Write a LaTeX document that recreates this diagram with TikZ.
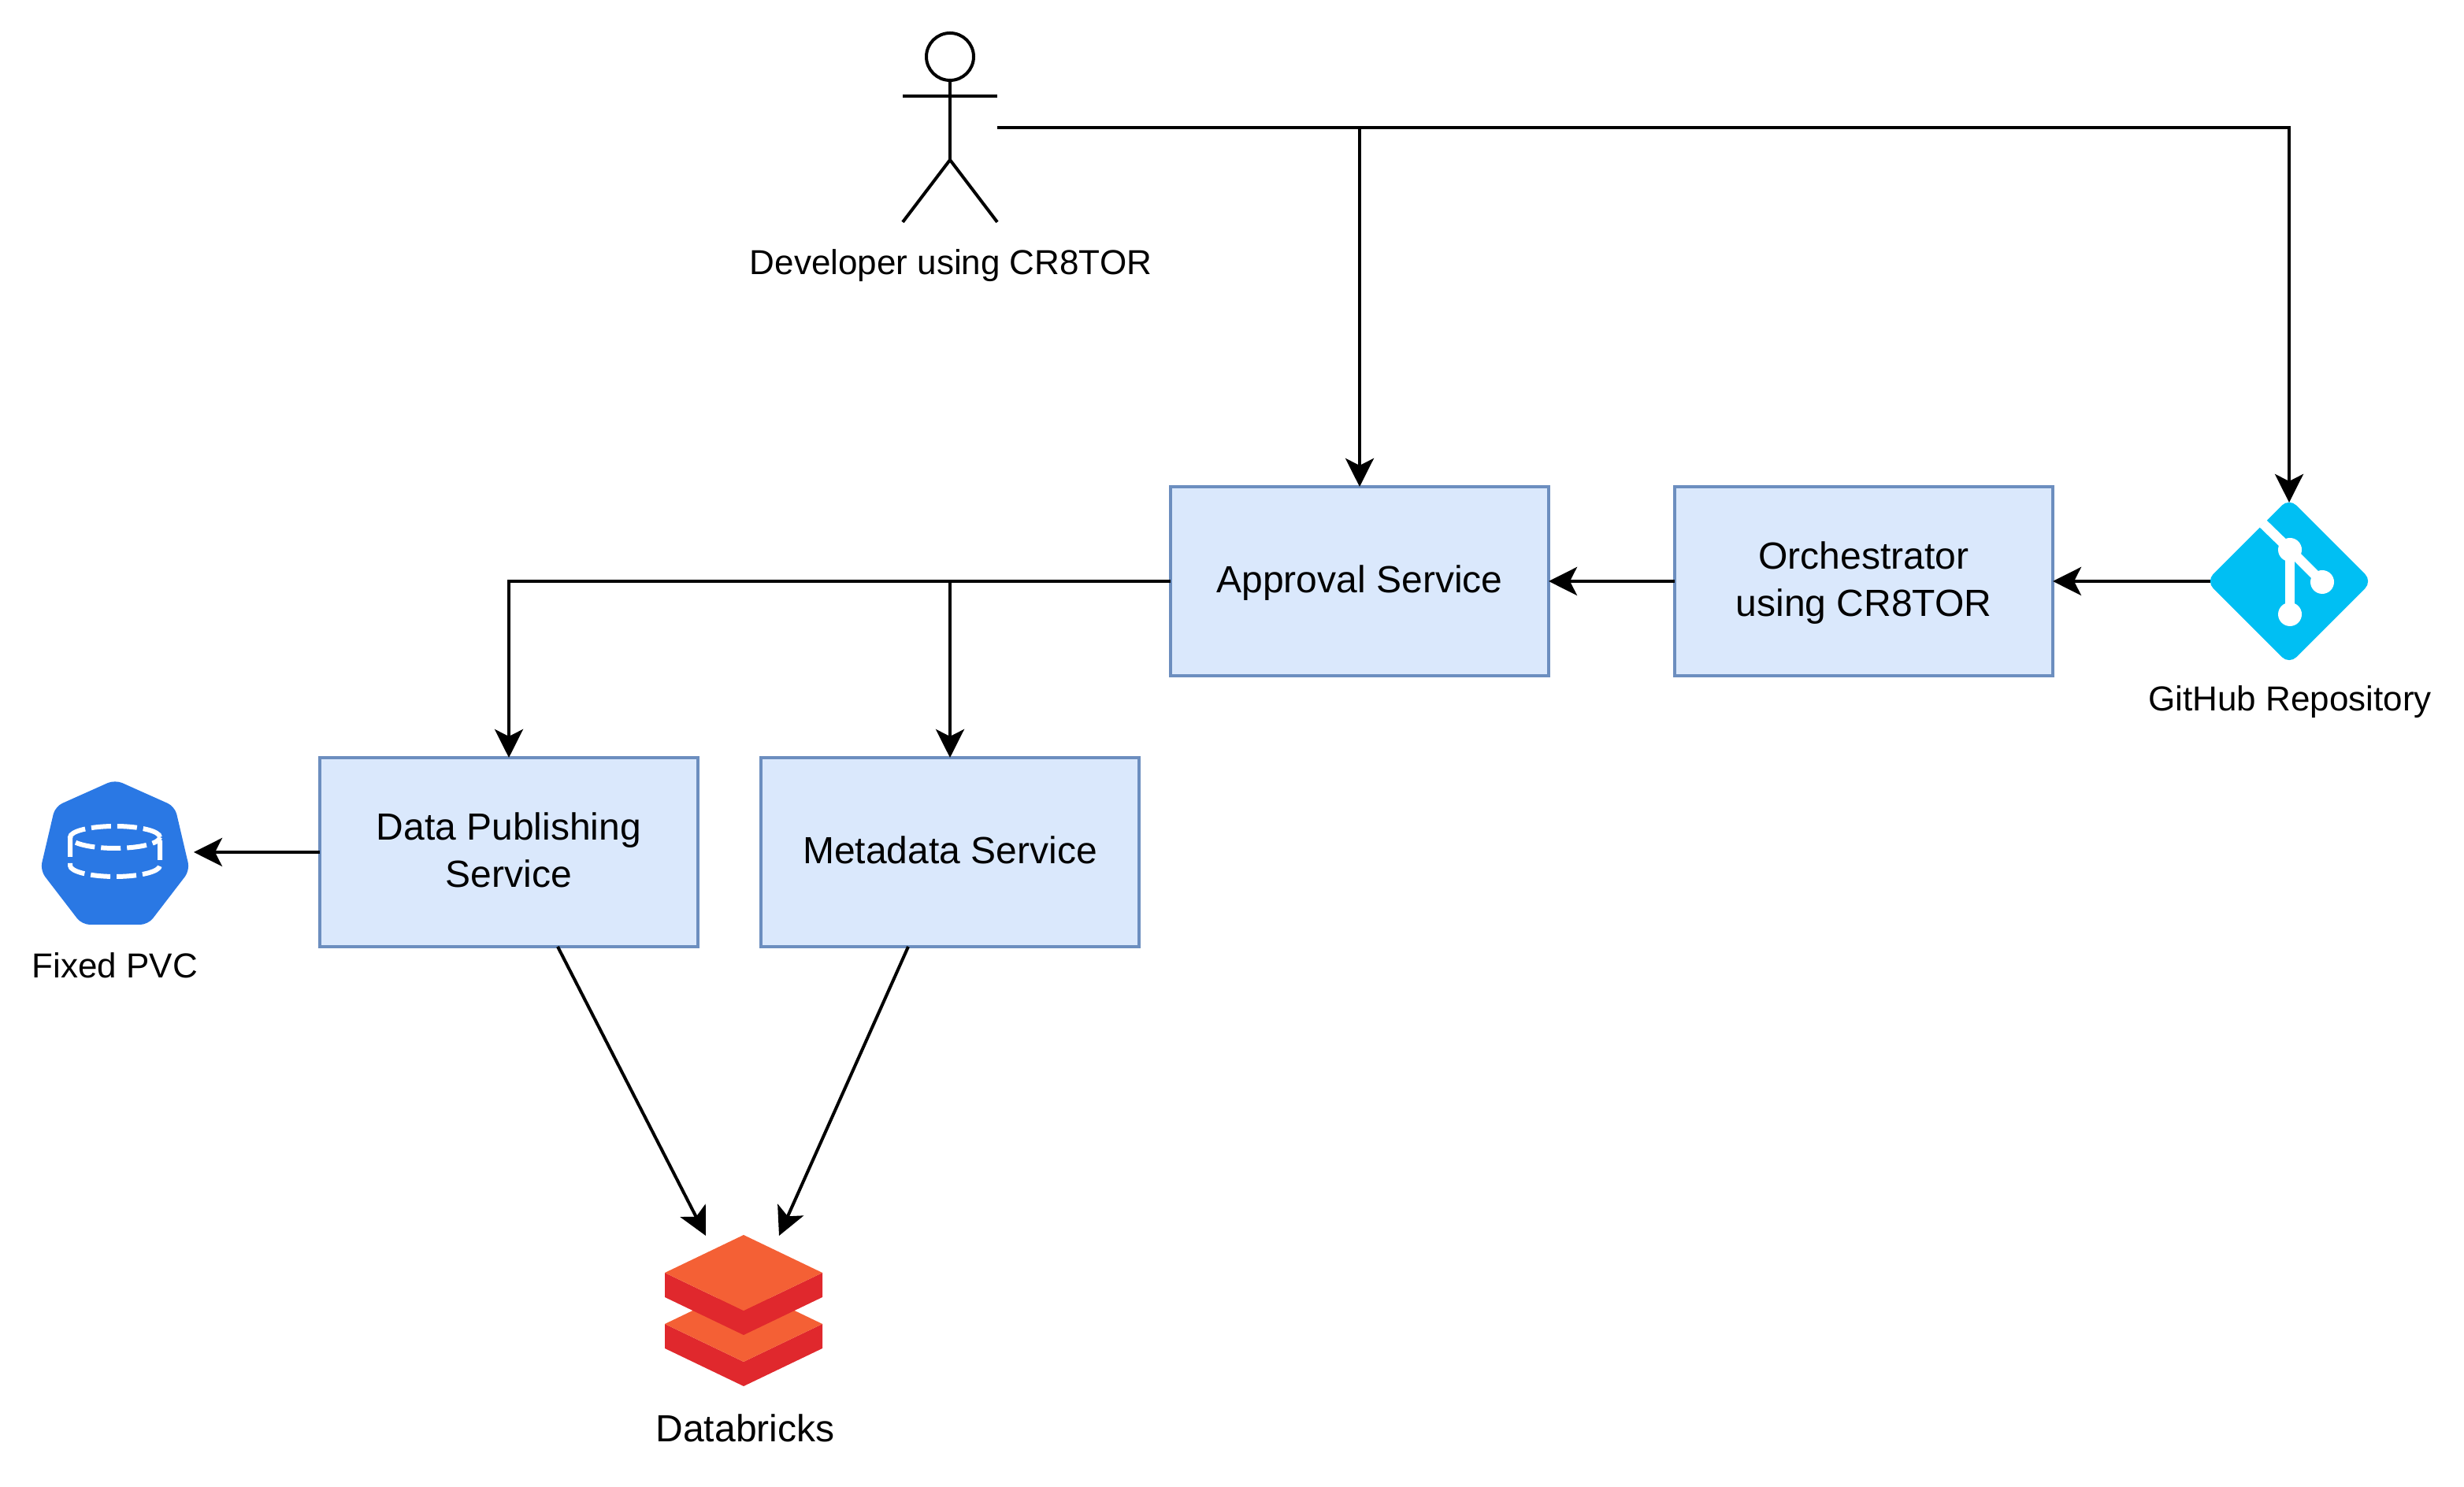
\documentclass[tikz,border=0pt]{standalone}
\usepackage{fontspec}
\setmainfont{Liberation Sans}
\usetikzlibrary{positioning,arrows.meta}

\tikzset{
  service/.style={draw=boxborder, fill=boxfill, line width=0.04cm, minimum width=4.8cm, minimum height=2.4cm, inner sep=0pt, outer sep=0pt, align=center, text height=11pt, text depth=3pt, font=\fontsize{13.66}{17.07}\selectfont},
  servicetwo/.style={service, text height=28.1pt},
  iconbox/.style={inner sep=0pt, outer sep=0pt},
  caption/.style={inner sep=0pt, font=\fontsize{12.52}{15}\selectfont},
  conn/.style={line width=0.04cm, -{Stealth[length=0.36cm,width=0.36cm,inset=0.09cm]}},
}

\begin{document}
\begin{tikzpicture}
  % Colours
  \definecolor{boxfill}{HTML}{DAE8FC}
  \definecolor{boxborder}{HTML}{6C8EBF}
  \definecolor{gitblue}{HTML}{00BFF3}
  \definecolor{pvcblue}{HTML}{2A78E4}
  \definecolor{dbtop}{HTML}{F46035}
  \definecolor{dbside}{HTML}{E0282D}

  \useasboundingbox (0,0) rectangle (31.28,18.88);

  % Services
  \node[service] (approval) at (17.26,11.50) {Approval Service};
  \node[servicetwo, right=1.6cm of approval] (orchestrator) {Orchestrator\\using CR8TOR};
  \node[service] (metadata) at (12.06,8.06) {Metadata Service};
  \node[servicetwo, left=0.8cm of metadata] (publishing) {Data Publishing\\Service};

  % Icons
  \node[iconbox, minimum width=1.2cm, minimum height=2.4cm] (actor) at (12.06,17.26) {};
  \node[iconbox, minimum size=2cm, right=2cm of orchestrator] (git) {};
  \node[iconbox, minimum width=2cm, minimum height=1.8cm] (pvc) at (1.46,8.06) {};
  \node[iconbox, minimum width=2cm, minimum height=1.92cm] (databricks) at (9.44,2.24) {};

  % Captions
  \node[caption] (actorlabel) at (12.07,15.51) {Developer using CR8TOR};
  \node[caption] (gitlabel) at (29.07,9.97) {GitHub Repository};
  \node[caption] (pvclabel) at (1.46,6.62) {Fixed PVC};
  \node[caption, font=\fontsize{13.66}{17.07}\selectfont] (dblabel) at (9.46,0.75) {Databricks};

  % Actor
  \begin{scope}[shift={(actor.center)}, line width=0.04cm]
    \draw (0,0.9) circle (0.3);
    \draw (0,0.6) -- (0,-0.41);
    \draw (-0.6,0.4) -- (0.6,0.4);
    \draw (-0.6,-1.2) -- (0,-0.41) -- (0.6,-1.2);
  \end{scope}

  % Git logo
  \begin{scope}[shift={(git.center)}]
    \fill[gitblue, rounded corners=0.13cm] (0,1.055) -- (1.055,0) -- (0,-1.055) -- (-1.055,0) -- cycle;
    \draw[white, line width=0.125cm] (-0.33,0.73) -- (0.01,0.40) -- (0.42,-0.01);
    \draw[white, line width=0.125cm] (0.01,0.40) -- (0.01,-0.42);
    \fill[white] (0.01,0.40) circle (0.15);
    \fill[white] (0.42,-0.01) circle (0.15);
    \fill[white] (0.01,-0.42) circle (0.15);
  \end{scope}

  % PVC logo
  \begin{scope}[shift={(pvc.center)}]
    \fill[pvcblue, rounded corners=0.1cm] (0,0.92) -- (0.76,0.58) -- (0.95,-0.23) -- (0.42,-0.92) -- (-0.42,-0.92) -- (-0.95,-0.23) -- (-0.76,0.58) -- cycle;
    \draw[white, line width=0.06cm, dash pattern=on 0.25cm off 0.08cm] (0,0.19) ellipse (0.57 and 0.14);
    \draw[white, line width=0.06cm, dash pattern=on 0.25cm off 0.08cm] (-0.57,0.19) -- (-0.57,-0.17) arc[start angle=180, end angle=360, x radius=0.57, y radius=0.14] -- (0.57,0.19);
  \end{scope}

  % Databricks logo
  \begin{scope}[shift={(databricks.center)}]
    \fill[dbside] (-1,-0.17) -- (-1,-0.48) -- (0,-0.96) -- (1,-0.48) -- (1,-0.17) -- (0,-0.65) -- cycle;
    \fill[dbtop] (-1,-0.17) -- (0,0.31) -- (1,-0.17) -- (0,-0.65) -- cycle;
    \fill[dbside] (-1,0.48) -- (-1,0.17) -- (0,-0.31) -- (1,0.17) -- (1,0.48) -- (0,0) -- cycle;
    \fill[dbtop] (-1,0.48) -- (0,0.96) -- (1,0.48) -- (0,0) -- cycle;
  \end{scope}
  \coordinate (dbleft) at (8.96,3.19);
  \coordinate (dbright) at (9.89,3.19);
  \coordinate (pubout) at (7.08,6.86);
  \coordinate (metaout) at (11.53,6.86);

  % Connectors
  \draw[conn] (actor.east) -| (approval.north);
  \draw[conn] (actor.east) -| (git.north);
  \draw[conn] (git.west) -- (orchestrator.east);
  \draw[conn] (orchestrator.west) -- (approval.east);
  \draw[conn] (approval.west) -| (publishing.north);
  \draw[conn] (approval.west) -| (metadata.north);
  \draw[conn] (publishing.west) -- (pvc.east);
  \draw[conn] (pubout) -- (dbleft);
  \draw[conn] (metaout) -- (dbright);
\end{tikzpicture}
\end{document}
